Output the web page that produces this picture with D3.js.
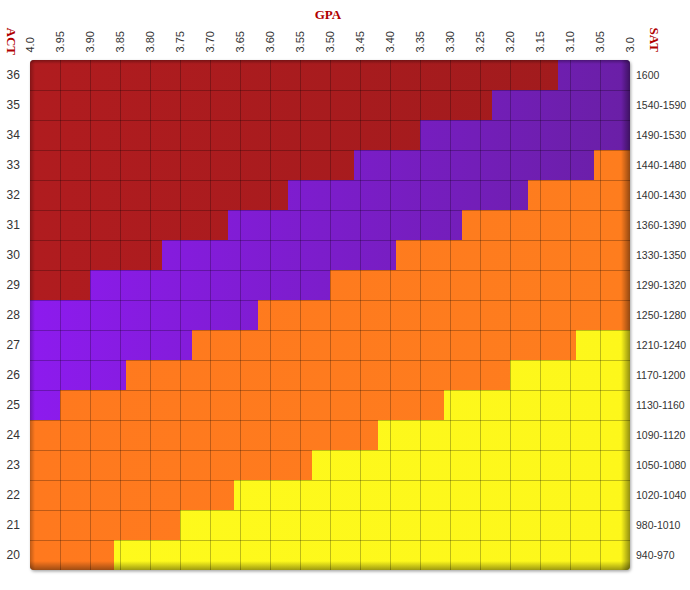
<!DOCTYPE html>
<html><head><meta charset="utf-8">
<script src="https://cdn.jsdelivr.net/npm/d3@7"></script>
<style>body{margin:0;background:#fff}svg{display:block}</style>
</head><body><svg id="c" width="690" height="590"></svg>
<script>
// ---- data ----
const gpaValues = [4.0,3.95,3.90,3.85,3.80,3.75,3.70,3.65,3.60,3.55,3.50,3.45,3.40,3.35,3.30,3.25,3.20,3.15,3.10,3.05,3.0];
const gpaTicks  = ["4.0","3.95","3.90","3.85","3.80","3.75","3.70","3.65","3.60","3.55","3.50","3.45","3.40","3.35","3.30","3.25","3.20","3.15","3.10","3.05","3.0"];
const actScores = [36,35,34,33,32,31,30,29,28,27,26,25,24,23,22,21,20];
const satRanges = ["1600","1540-1590","1490-1530","1440-1480","1400-1430","1360-1390","1330-1350","1290-1320","1250-1280","1210-1240","1170-1200","1130-1160","1090-1120","1050-1080","1020-1040","980-1010","940-970"];
// GPA value where each band ends (band runs from previous end toward 3.0)
const redEnd    = [3.12,3.23,3.35,3.46,3.57,3.67,3.78,3.90,4.0,4.0,4.0,4.0,4.0,4.0,4.0,4.0,4.0];
const purpleEnd = [3.0,3.0,3.0,3.06,3.17,3.28,3.39,3.50,3.62,3.73,3.84,3.95,4.0,4.0,4.0,4.0,4.0];
const orangeEnd = [3.0,3.0,3.0,3.0,3.0,3.0,3.0,3.0,3.0,3.09,3.20,3.31,3.42,3.53,3.66,3.75,3.86];
const bands = ["red","purple","orange","yellow"];

// ---- layout ----
const svg = d3.select("#c");
const L = 30, R = 630, T = 60, B = 570;
const x = d3.scaleLinear().domain([4.0, 3.0]).range([L, R]);
const y = d3.scaleBand().domain(actScores).range([T, B]).padding(0);

const defs = svg.append("defs");
defs.append("clipPath").attr("id","clip").append("rect")
  .attr("x",L).attr("y",T).attr("width",R-L).attr("height",B-T).attr("rx",4);
const f = defs.append("filter").attr("id","sh").attr("x","-5%").attr("y","-5%").attr("width","110%").attr("height","110%");
f.append("feDropShadow").attr("dx",1).attr("dy",1.5).attr("stdDeviation",1.5).attr("flood-color","#000").attr("flood-opacity",0.35);

function lg(id, x1,y1,x2,y2, stops){
  const g = defs.append("linearGradient").attr("id",id).attr("gradientUnits","userSpaceOnUse")
    .attr("x1",x1).attr("y1",y1).attr("x2",x2).attr("y2",y2);
  stops.forEach(s=>g.append("stop").attr("offset",s[0]).attr("stop-color",s[1]).attr("stop-opacity",s[2]===undefined?1:s[2]));
}
lg("gRed", L,0,R,0, [[0,"#b01c1f"],[1,"#a01b1d"]]);
lg("gPurple", L,0,R,0, [[0,"#8d1bee"],[1,"#6a1fa6"]]);
lg("gOrange", L,0,R,0, [[0,"#ff791e"],[1,"#fe7d1e"]]);
lg("gYellow", L,0,R,0, [[0,"#fefa1c"],[1,"#fdf71b"]]);
const fills = {red:"url(#gRed)", purple:"url(#gPurple)", orange:"url(#gOrange)", yellow:"url(#gYellow)"};

// shadow base
svg.append("rect").attr("x",L).attr("y",T).attr("width",R-L).attr("height",B-T).attr("rx",4)
  .attr("fill","#888").attr("filter","url(#sh)");

const plot = svg.append("g").attr("clip-path","url(#clip)");

// build segments
const segs = [];
actScores.forEach((a,i)=>{
  const ends = [redEnd[i], purpleEnd[i], orangeEnd[i], 3.0];
  let start = 4.0;
  ends.forEach((e,k)=>{
    const stop = Math.min(start, e);
    if (start - stop > 1e-9) segs.push({act:a, band:bands[k], from:start, to:stop});
    start = Math.min(start, e);
  });
});
plot.selectAll("rect.cell").data(segs).join("rect").attr("class","cell")
  .attr("x", d=>x(d.from)).attr("y", d=>y(d.act))
  .attr("width", d=>x(d.to)-x(d.from)).attr("height", y.bandwidth())
  .attr("fill", d=>fills[d.band]).attr("shape-rendering","crispEdges");

// grid
plot.selectAll("line.v").data(gpaValues.slice(1,-1)).join("line").attr("class","v")
  .attr("x1",d=>Math.round(x(d))+0.5).attr("x2",d=>Math.round(x(d))+0.5).attr("y1",T).attr("y2",B)
  .attr("stroke","#000").attr("stroke-opacity",0.25).attr("stroke-width",1);
plot.selectAll("line.h").data(actScores.slice(1)).join("line").attr("class","h")
  .attr("y1",d=>Math.round(y(d))+0.5).attr("y2",d=>Math.round(y(d))+0.5).attr("x1",L).attr("x2",R)
  .attr("stroke","#000").attr("stroke-opacity",0.25).attr("stroke-width",1);

// inner edge shading
lg("eR", R-9,0,R,0, [[0,"#000",0],[1,"#000",0.42]]);
lg("eB", 0,B-9,0,B, [[0,"#000",0],[1,"#000",0.38]]);
lg("eL", L,0,L+5,0, [[0,"#000",0.25],[1,"#000",0]]);
lg("eT", 0,T,0,T+4, [[0,"#000",0.3],[1,"#000",0]]);
plot.append("rect").attr("x",R-9).attr("y",T).attr("width",9).attr("height",B-T).attr("fill","url(#eR)");
plot.append("rect").attr("x",L).attr("y",B-9).attr("width",R-L).attr("height",9).attr("fill","url(#eB)");
plot.append("rect").attr("x",L).attr("y",T).attr("width",5).attr("height",B-T).attr("fill","url(#eL)");
plot.append("rect").attr("x",L).attr("y",T).attr("width",R-L).attr("height",4).attr("fill","url(#eT)");

// GPA tick labels
const lab = "Liberation Sans, Arial, sans-serif";
svg.append("g").selectAll("text").data(gpaValues).join("text")
  .attr("transform", d=>`translate(${x(d)},52.5) rotate(-90)`)
  .attr("dy","0.35em").attr("text-anchor","start")
  .attr("font-family",lab).attr("font-size",11).attr("fill","#333")
  .text((d,i)=>gpaTicks[i]);

// ACT labels
svg.append("g").selectAll("text").data(actScores).join("text")
  .attr("x",6.5).attr("y",d=>y(d)+y.bandwidth()/2).attr("dy","0.35em")
  .attr("font-family",lab).attr("font-size",12).attr("fill","#333").text(d=>d);

// SAT labels
svg.append("g").selectAll("text").data(actScores).join("text")
  .attr("x",636).attr("y",d=>y(d)+y.bandwidth()/2).attr("dy","0.35em")
  .attr("font-family",lab).attr("font-size",10.5).attr("fill","#333").text((d,i)=>satRanges[i]);

// titles
const tf = "Liberation Serif, 'DejaVu Serif', serif";
svg.append("text").attr("x",328).attr("y",19).attr("text-anchor","middle")
  .attr("font-family",tf).attr("font-weight","bold").attr("font-size",13).attr("fill","#b00000").text("GPA");
svg.append("text").attr("transform","translate(7,27.5) rotate(90)")
  .attr("font-family",tf).attr("font-weight","bold").attr("font-size",13).attr("fill","#b00000").text("ACT");
svg.append("text").attr("transform","translate(649.5,27.5) rotate(90)")
  .attr("font-family",tf).attr("font-weight","bold").attr("font-size",13).attr("fill","#b00000").text("SAT");
</script></body></html>
